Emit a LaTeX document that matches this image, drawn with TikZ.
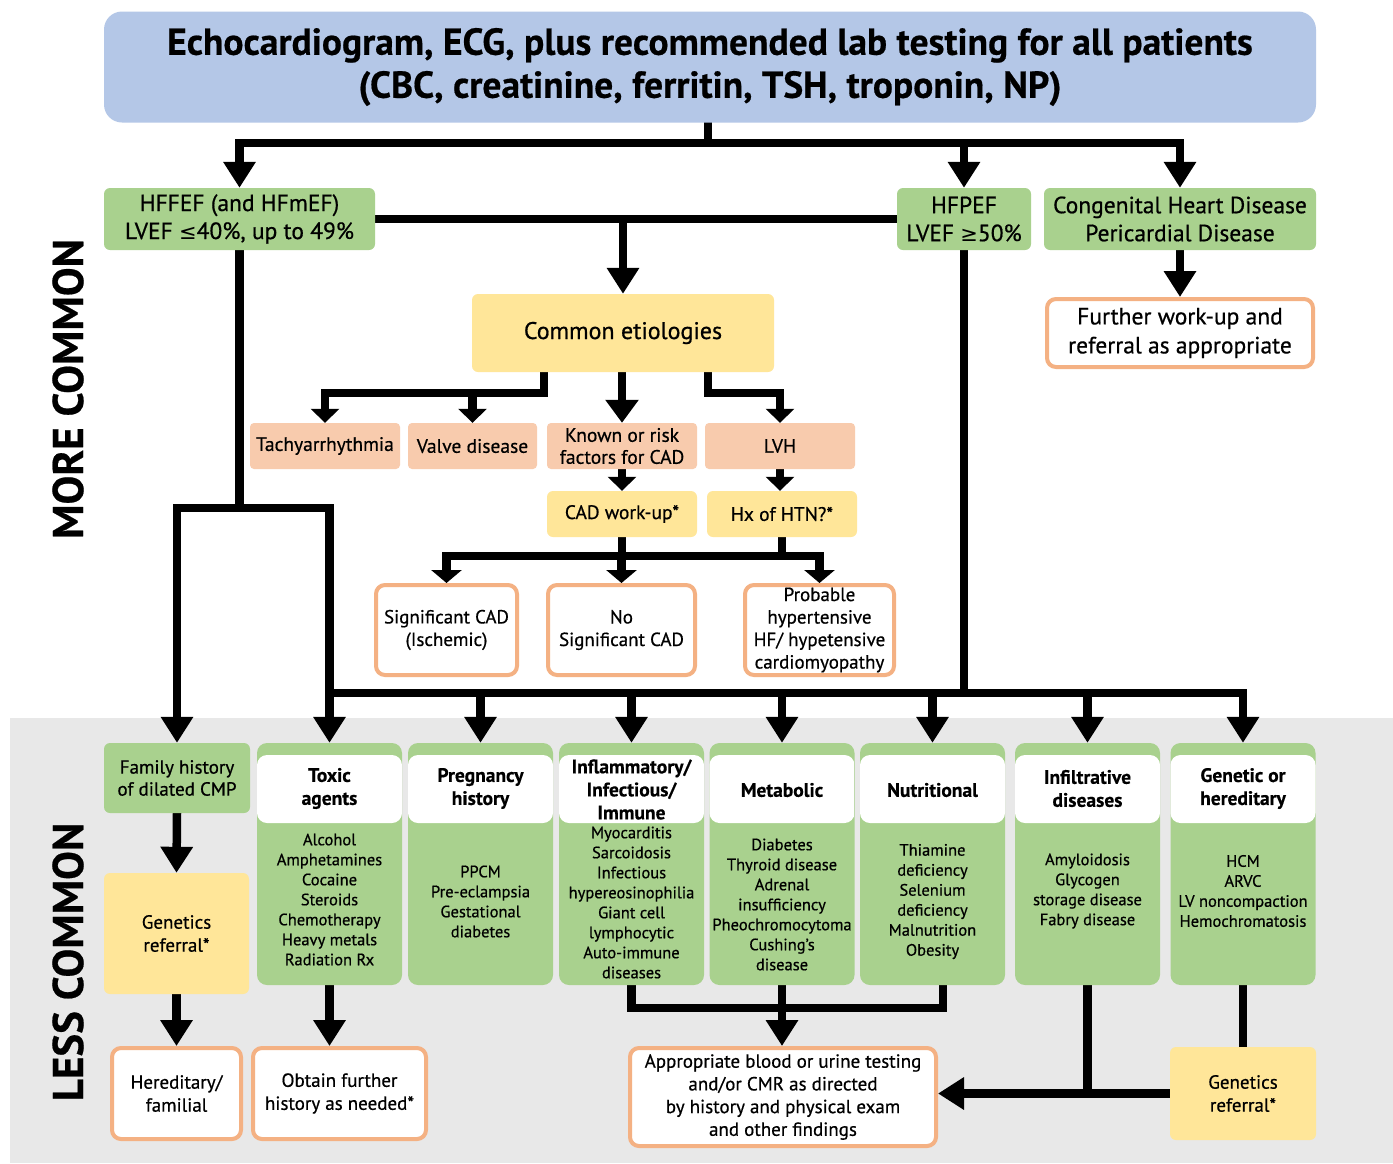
\documentclass[tikz,border=0pt]{standalone}
\usepackage{fontspec}
\setmainfont{PT Sans}[UprightFeatures={FakeBold=0.6},BoldFeatures={FakeBold=0.5}]
\newfontfamily\symf{DejaVu Sans}
\usetikzlibrary{arrows.meta,calc}
\definecolor{hdrblue}{HTML}{B4C7E7}
\definecolor{grn}{HTML}{A9D18E}
\definecolor{yel}{HTML}{FFE699}
\definecolor{pch}{HTML}{F8CBAD}
\definecolor{org}{HTML}{F4B183}
\definecolor{gry}{HTML}{E8E8E8}
\newcommand\fs[2]{\fontsize{#1}{#2}\selectfont}
\pgfdeclarelayer{bg}
\pgfdeclarelayer{edges}
\pgfsetlayers{bg,edges,main}
\newcommand\catbox[6]{%
  \node[cat] (#1) at (#2,864) {};
  \node[cattitle] (#1-t) at (#2,#4) {#3};
  \node[catbody] (#1-b) at (#2,#6) {#5};
}
\begin{document}
\begin{tikzpicture}[x=1pt,y=-1pt,
  base/.style={align=center, inner sep=0pt, text=black},
  gbox/.style={base, fill=grn, rounded corners=6pt, font=\fs{23.5}{28}},
  ybox/.style={base, fill=yel, rounded corners=6pt},
  pbox/.style={base, fill=pch, rounded corners=4pt, font=\fs{19.5}{22}, minimum height=46pt},
  obox/.style={base, fill=white, draw=org, line width=4pt, rounded corners=9pt},
  cat/.style={fill=grn, rounded corners=10pt, minimum width=145pt, minimum height=242pt, inner sep=0pt,
    path picture={\fill[white] ($(path picture bounding box.north west)+(0,12)$) rectangle ($(path picture bounding box.north east)+(0,80)$);}},
  cattitle/.style={base, font=\bfseries\fs{19.5}{23}},
  catbody/.style={base, font=\fs{16.5}{20}},
  conn/.style={line width=8.5pt, line cap=rect, line join=miter},
  barr/.style={conn, -{Triangle[width=31pt,length=26pt]}},
  marr/.style={conn, -{Triangle[width=32pt,length=23pt]}},
  sarr/.style={conn, -{Triangle[width=28pt,length=14pt]}},
  tarr/.style={conn, -{Triangle[width=30pt,length=13pt]}},
  side/.style={base, rotate=90, font=\bfseries\fs{43}{43}}
]
\useasboundingbox (0,0) rectangle (1393,1163);
\begin{pgfonlayer}{bg}
  \fill[white] (0,0) rectangle (1393,1163);
  \fill[gry] (10,718) rectangle (1393,1163);
\end{pgfonlayer}

% header
\node[base, fill=hdrblue, rounded corners=18pt, minimum width=1212pt, minimum height=111pt, font=\bfseries\fs{37.5}{43}] (hdr) at (710,67)
  {Echocardiogram, ECG, plus recommended lab testing for all patients\\(CBC, creatinine, ferritin, TSH, troponin, NP)};

% side labels
\node[side] (more) at (68,389) {MORE COMMON};
\node[side] (less) at (68,962) {LESS COMMON};

% first level
\node[gbox, minimum width=271pt, minimum height=62pt] (hfr) at (239.5,219) {HFFEF (and HFmEF)\\LVEF {\symf\fs{21}{28}≤}40\%, up to 49\%};
\node[gbox, minimum width=134pt, minimum height=62pt] (hfp) at (964,219) {HFPEF\\LVEF {\symf\fs{21}{28}≥}50\%};
\node[gbox, minimum width=272pt, minimum height=62pt] (chd) at (1180,219) {Congenital Heart Disease\\Pericardial Disease};
\node[obox, minimum width=266pt, minimum height=68pt, font=\fs{23.5}{29}] (fwu) at (1180,333) {Further work-up and\\referral as appropriate};
\node[ybox, minimum width=302pt, minimum height=78pt, font=\fs{24}{26}] (com) at (623,333) {Common etiologies};

% etiologies
\node[pbox, minimum width=150pt] (tachy) at (325,446) {Tachyarrhythmia};
\node[pbox, minimum width=129pt] (valve) at (472.5,446) {Valve disease};
\node[pbox, minimum width=150pt] (known) at (622,446) {Known or risk\\factors for CAD};
\node[pbox, minimum width=150pt] (lvh) at (780,446) {LVH};
\node[ybox, minimum width=150pt, minimum height=46pt, font=\fs{19.5}{22}] (cadwu) at (622,514) {CAD work-up*};
\node[ybox, minimum width=150pt, minimum height=46pt, font=\fs{19.5}{22}] (htn) at (782,514) {Hx of HTN?*};
\node[obox, minimum width=141pt, minimum height=90pt, font=\fs{19}{22.5}] (sig) at (446.5,630) {Significant CAD\\(Ischemic)};
\node[obox, minimum width=147pt, minimum height=90pt, font=\fs{19}{22.5}] (nosig) at (621.5,630) {No\\Significant CAD};
\node[obox, minimum width=149pt, minimum height=90pt, font=\fs{19}{22.5}] (prob) at (819.5,630) {Probable\\hypertensive\\HF/ hypetensive\\cardiomyopathy};

% less common
\node[gbox, minimum width=146pt, minimum height=70pt, font=\fs{19}{22}] (fam) at (177,778) {Family history\\of dilated CMP};
\node[ybox, minimum width=145pt, minimum height=121pt, font=\fs{19}{23}] (genL) at (176.5,933.5) {Genetics\\referral*};
\node[obox, minimum width=129pt, minimum height=91pt, font=\fs{19}{23}] (hered) at (176.5,1093.5) {Hereditary/\\familial};
\node[obox, minimum width=173pt, minimum height=91pt, font=\fs{19}{23}] (obtain) at (339.5,1093.5) {Obtain further\\history as needed*};
\node[obox, minimum width=306pt, minimum height=98pt, font=\fs{19}{22.7}] (appr) at (783,1097) {Appropriate blood or urine testing\\and/or CMR as directed\\by history and physical exam\\and other findings};
\node[ybox, minimum width=146pt, minimum height=93pt, font=\fs{19}{23}] (genR) at (1243,1093.5) {Genetics\\referral*};

\catbox{tox}{329.5}{Toxic\\agents}{788.5}{Alcohol\\Amphetamines\\Cocaine\\Steroids\\Chemotherapy\\Heavy metals\\Radiation Rx}{899.5}
\catbox{preg}{480.5}{Pregnancy\\history}{788.5}{PPCM\\Pre-eclampsia\\Gestational\\diabetes}{901.5}
\catbox{infl}{631.5}{Inflammatory/\\Infectious/\\Immune}{789.5}{Myocarditis\\Sarcoidosis\\Infectious\\hypereosinophilia\\Giant cell\\lymphocytic\\Auto-immune\\diseases}{902.5}
\catbox{met}{782}{Metabolic}{790}{Diabetes\\Thyroid disease\\Adrenal\\insufficiency\\Pheochromocytoma\\Cushing's\\disease}{904.5}
\catbox{nut}{932.5}{Nutritional}{790}{Thiamine\\deficiency\\Selenium\\deficiency\\Malnutrition\\Obesity}{901.5}
\catbox{infil}{1087.5}{Infiltrative\\diseases}{788.5}{Amyloidosis\\Glycogen\\storage disease\\Fabry disease}{891}
\catbox{gen}{1243}{Genetic or\\hereditary}{788.5}{HCM\\ARVC\\LV noncompaction\\Hemochromatosis}{891}

% connectors
\begin{pgfonlayer}{edges}
  \coordinate (tb) at (708,143);
  \draw[conn] (hdr.south -| tb) -- (tb);
  \draw[conn] (tb -| hfr.north) -- (tb -| chd.north);
  \draw[barr] (tb -| hfr.north) -- (hfr.north);
  \draw[barr] (tb -| hfp.north) -- (hfp.north);
  \draw[barr] (tb -| chd.north) -- (chd.north);
  \draw[conn] (hfr.east) -- (hfp.west);
  \draw[barr] (hfr.east -| com.north) -- (com.north);
  \draw[barr] (chd.south) -- (fwu.north);

  \coordinate (c1) at (544,393);
  \coordinate (c2) at (708,393);
  \draw[conn] (c1 |- com.south) -- (c1) -- (c1 -| tachy.north);
  \draw[sarr] (c1 -| tachy.north) -- (tachy.north);
  \draw[sarr] (c1 -| valve.north) -- (valve.north);
  \draw[marr] (com.south -| known.north) -- (known.north);
  \draw[conn] (c2 |- com.south) -- (c2) -- (c2 -| lvh.north);
  \draw[sarr] (c2 -| lvh.north) -- (lvh.north);
  \draw[sarr] (known.south) -- (cadwu.north);
  \draw[sarr] (lvh.south) -- (lvh.south |- htn.north);

  \coordinate (c3) at (622,556);
  \draw[conn] (cadwu.south) -- (cadwu.south |- c3);
  \draw[conn] (htn.south) -- (htn.south |- c3);
  \draw[conn] (c3 -| sig.north) -- (c3 -| prob.north);
  \draw[tarr] (c3 -| sig.north) -- (sig.north);
  \draw[tarr] (c3 -| nosig.north) -- (nosig.north);
  \draw[tarr] (c3 -| prob.north) -- (prob.north);

  \coordinate (lb) at (0,508);
  \coordinate (bb) at (0,693);
  \draw[conn] (hfr.south) -- (hfr.south |- lb);
  \draw[conn] (lb -| fam.north) -- (lb -| tox.north);
  \draw[barr] (lb -| fam.north) -- (fam.north);
  \draw[barr] (lb -| tox.north) -- (tox.north);
  \draw[conn] (hfp.south) -- (hfp.south |- bb);
  \draw[conn] (bb -| tox.north) -- (bb -| gen.north);
  \foreach \n in {preg,infl,met,nut,infil,gen}
    \draw[barr] (bb -| \n.north) -- (\n.north);

  \draw[barr] (fam.south) -- (genL.north);
  \draw[barr] (genL.south) -- (hered.north);
  \draw[barr] (tox.south) -- (tox.south |- obtain.north);

  \coordinate (ib) at (0,1008);
  \path (nut.south) ++(10.5,0) coordinate (nb);
  \draw[conn] (infl.south) -- (infl.south |- ib) -- (nb |- ib) -- (nb);
  \draw[barr] (met.south) -- (met.south |- appr.north);
  \draw[conn] (infil.south) -- (infil.south |- genR.west);
  \draw[conn] (gen.south) -- (genR.north);
  \draw[barr] (genR.west) -- (genR.west -| appr.east);
\end{pgfonlayer}
\end{tikzpicture}
\end{document}
